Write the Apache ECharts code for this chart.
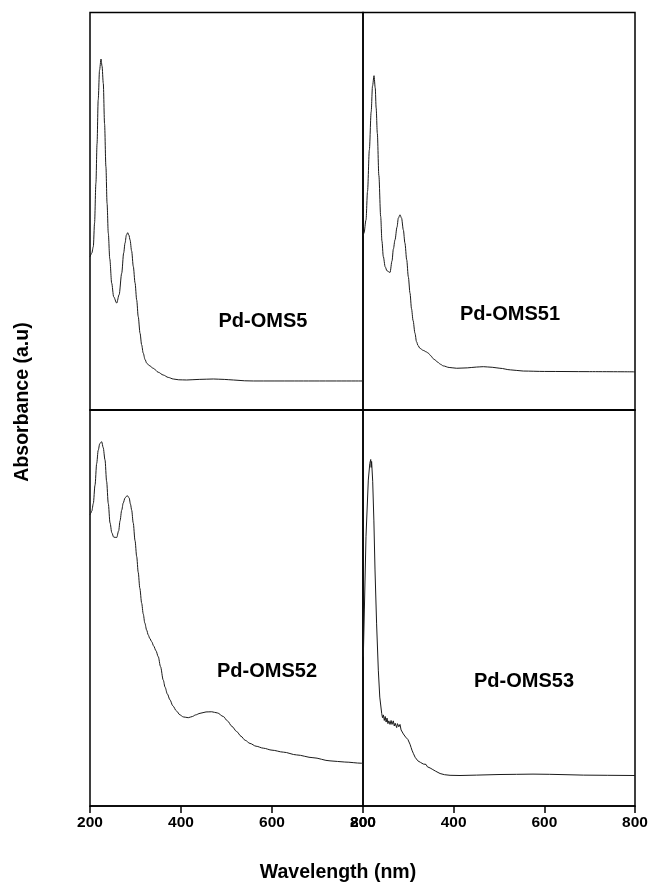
<!DOCTYPE html>
<html>
<head>
<meta charset="utf-8">
<script src="https://cdn.jsdelivr.net/npm/echarts@6/dist/echarts.min.js"></script>
<style>
  html, body { margin: 0; padding: 0; background: #fff; }
  #chart { width: 651px; height: 884px; }
</style>
</head>
<body>
<div id="chart"></div>
<script>
// UV-vis spectra of the four Pd-OMS samples (absorbance in arbitrary units)
const xTicks = [200, 400, 600, 800];
const panelNames = ['Pd-OMS5', 'Pd-OMS51', 'Pd-OMS52', 'Pd-OMS53'];

const oms5Wl  = [200, 204, 207.3, 210, 213, 215.5, 218, 221, 224.2, 226.5, 229.2, 232, 235, 237.5, 240.2, 243.5, 247.7, 252, 258.7, 264, 269.7, 274, 277, 280, 282.8, 285.5, 288, 291.5, 295.2, 299, 302.6, 306, 310, 313.5, 317, 321, 324.6, 330, 339, 350, 361, 372, 383, 395, 412.5, 440, 471, 495, 515, 540, 559, 650, 800];
const oms5Abs = [38.5, 39.5, 41.1, 47, 57.1, 67, 78, 85.5, 88.3, 86.5, 82.2, 72, 61.2, 52, 44.5, 38, 31.9, 28.5, 26.9, 29, 34.4, 39.5, 42, 44, 44.6, 44, 42.8, 40, 36.1, 32, 27.7, 23.5, 19.3, 16.4, 14.3, 12.7, 11.8, 11.2, 10.5, 9.5, 8.8, 8.2, 7.8, 7.6, 7.55, 7.7, 7.8, 7.7, 7.55, 7.35, 7.3, 7.3, 7.3];

const oms51Wl  = [200, 202.2, 206.6, 210, 214, 218, 221, 224.3, 227, 229, 231.6, 235, 239, 241.8, 244.8, 249, 253, 259.6, 264, 267, 270.6, 275, 278, 281.6, 285, 289, 292.5, 296.4, 300, 303.7, 307, 310.5, 314.7, 318, 321.5, 325.7, 333, 340, 344, 350, 355, 358.8, 365, 371, 377, 390, 406.7, 430, 450, 465.4, 485, 502, 525, 553.6, 600, 700, 800];
const oms51Abs = [43.8, 44.5, 47.8, 55, 65.4, 75, 81.5, 84.1, 81, 76, 69.6, 59, 48.7, 42.5, 38.6, 36, 35, 34.6, 37.5, 40.5, 42.8, 46, 48.3, 49.1, 48.3, 45.3, 42, 37.8, 33.5, 29.4, 25.5, 22.5, 19.3, 17.2, 16.2, 15.5, 15.0, 14.6, 14.3, 13.6, 12.9, 12.6, 12.0, 11.5, 11.1, 10.7, 10.5, 10.6, 10.8, 10.9, 10.75, 10.5, 10.1, 9.8, 9.7, 9.65, 9.6];

const oms52Wl  = [200, 201.5, 204, 207.3, 211, 214.7, 218, 221.5, 225.7, 229, 233, 236.5, 240.2, 244, 248, 252, 258.7, 263, 266, 269.7, 273, 277, 280, 282.8, 286, 289, 291.6, 295, 299, 302.6, 306, 309.5, 313.6, 317, 320.5, 324.6, 328, 331.5, 335.6, 340, 345, 350, 355, 361, 365, 370, 375.8, 382, 390, 397.8, 405, 416, 425, 432, 441.8, 455, 467.5, 480, 493, 502, 512, 522.4, 532, 541, 551.7, 565, 581, 600, 625, 654, 690, 727.5, 760, 797, 800];
const oms52Abs = [73.5, 73.9, 74.5, 76.4, 81, 86.5, 89.8, 91.5, 92.0, 90.5, 87.4, 82, 76.4, 71.5, 69, 67.9, 67.8, 69.5, 72, 74.7, 76.5, 77.8, 78.2, 78.3, 77.8, 76.2, 74.7, 71.5, 67, 63, 59, 55, 51.2, 48.5, 46.2, 44.4, 43.2, 42.3, 41.5, 40.4, 39.2, 37.7, 35.2, 31.8, 30.0, 28.3, 26.8, 25.3, 24.0, 23.0, 22.5, 22.3, 22.6, 23.0, 23.4, 23.75, 23.8, 23.5, 22.6, 21.5, 20.1, 18.8, 17.6, 16.6, 15.8, 15.1, 14.6, 14.1, 13.6, 12.9, 12.2, 11.4, 11.1, 10.8, 10.75];

const oms53Wl  = [200.7, 203, 206.6, 211.7, 215, 217, 218, 219, 221.4, 224, 226.5, 230, 233.8, 237, 241.2, 243, 245, 247, 249, 251, 253, 255, 257, 259.6, 262, 264, 266.9, 269, 271, 274.3, 276, 279, 281.6, 284, 287, 289, 292, 294, 296.4, 299, 301, 303.7, 306, 308, 311, 313, 315, 318.5, 321, 324, 327, 330, 333, 336, 339, 342, 345, 348, 351, 354, 357, 360, 363, 370, 380, 392, 414, 450, 500, 539, 575, 612, 650, 686, 740, 800];
const oms53Abs = [37.7, 49.5, 68, 82.3, 86.5, 87.5, 85.5, 87, 82, 72, 59.6, 46, 34.3, 27.5, 23.4, 22.3, 23.0, 21.6, 22.6, 21.2, 22.2, 20.8, 21.5, 20.6, 21.6, 20.6, 21.5, 20.2, 20.9, 19.8, 20.8, 20.0, 20.6, 19.2, 18.8, 18.2, 18.0, 17.4, 17.6, 16.8, 16.3, 15.6, 14.8, 14.1, 13.3, 13.0, 12.3, 12.1, 11.4, 11.6, 11.0, 11.2, 10.6, 10.2, 10.5, 9.9, 10.2, 9.6, 9.8, 9.2, 9.4, 8.8, 8.7, 8.2, 7.9, 7.75, 7.7, 7.8, 7.95, 8.0, 8.05, 8.0, 7.9, 7.8, 7.75, 7.7];

const spectra = [
  { wl: oms5Wl,  abs: oms5Abs,  smooth: 0.3 },
  { wl: oms51Wl, abs: oms51Abs, smooth: 0.3 },
  { wl: oms52Wl, abs: oms52Abs, smooth: 0.3 },
  { wl: oms53Wl, abs: oms53Abs, smooth: false }
];

const FONT = '"Liberation Sans", Arial, Helvetica, sans-serif';

// 2 x 2 panel layout, panels share their inner edges
const grids = [
  { left: 90,  top: 12.5, width: 273, height: 397.5 },
  { left: 363, top: 12.5, width: 272, height: 397.5 },
  { left: 90,  top: 410,  width: 273, height: 396 },
  { left: 363, top: 410,  width: 272, height: 396 }
];

const chart = echarts.init(document.getElementById('chart'), null, { renderer: 'canvas' });

const option = {
  backgroundColor: '#fff',
  animation: false,
  grid: grids.map(g => Object.assign({
    show: true, borderColor: '#000', borderWidth: 1.5, backgroundColor: 'transparent',
    containLabel: false
  }, g)),
  xAxis: grids.map((g, i) => {
    const bottomRow = i >= 2;
    return {
      type: 'value', gridIndex: i, min: xTicks[0], max: xTicks[xTicks.length - 1],
      interval: xTicks[1] - xTicks[0],
      axisLine: { show: true, lineStyle: { color: '#000', width: 1.5 } },
      axisTick: { show: bottomRow, inside: false, length: 7, lineStyle: { color: '#000', width: 1.5 } },
      axisLabel: {
        show: bottomRow, margin: 9, color: '#000', fontFamily: FONT,
        fontWeight: 'bold', fontSize: 15.5
      },
      splitLine: { show: false }
    };
  }),
  yAxis: grids.map((g, i) => ({
    type: 'value', gridIndex: i, min: 0, max: 100,
    axisLine: { show: false }, axisTick: { show: false },
    axisLabel: { show: false }, splitLine: { show: false }
  })),
  series: spectra.map((s, i) => ({
    type: 'line', xAxisIndex: i, yAxisIndex: i,
    data: s.wl.map((w, k) => [w, s.abs[k]]),
    showSymbol: false, smooth: s.smooth, smoothMonotone: 'x',
    lineStyle: { color: '#1a1a1a', width: 1 },
    z: 3
  })),
  graphic: [
    { type: 'text', left: 262.5 - 44, top: 322 - 11, style: { text: panelNames[0], font: 'bold 20px ' + FONT, fill: '#000' } },
    { type: 'text', left: 509 - 49, top: 315 - 11, style: { text: panelNames[1], font: 'bold 20px ' + FONT, fill: '#000' } },
    { type: 'text', left: 266 - 49, top: 672 - 11, style: { text: panelNames[2], font: 'bold 20px ' + FONT, fill: '#000' } },
    { type: 'text', left: 523 - 49, top: 682 - 11, style: { text: panelNames[3], font: 'bold 20px ' + FONT, fill: '#000' } },
    {
      type: 'text', x: 23, y: 402, rotation: Math.PI / 2,
      style: { text: 'Absorbance (a.u)', font: 'bold 19.5px ' + FONT, fill: '#000', align: 'center', verticalAlign: 'middle' }
    },
    {
      type: 'text', x: 338, y: 873,
      style: { text: 'Wavelength (nm)', font: 'bold 19.5px ' + FONT, fill: '#000', align: 'center', verticalAlign: 'middle' }
    }
  ]
};

chart.setOption(option);
</script>
</body>
</html>
